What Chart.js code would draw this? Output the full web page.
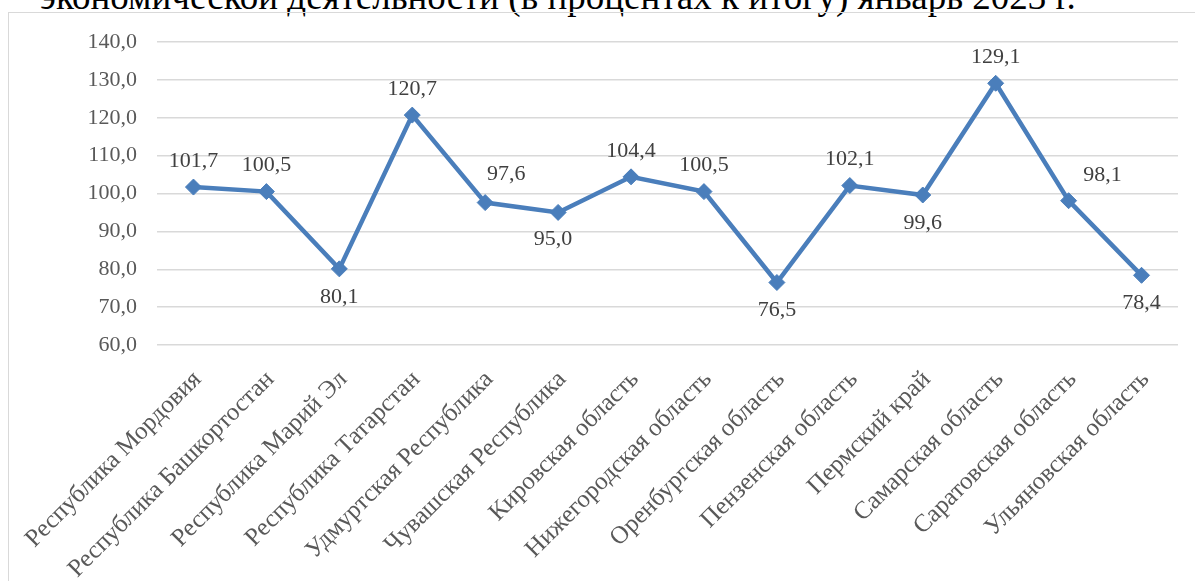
<!DOCTYPE html>
<html><head><meta charset="utf-8">
<script src="https://cdn.jsdelivr.net/npm/chart.js@4"></script>
<style>
html,body{margin:0;padding:0;background:#fff;overflow:hidden;width:1195px;height:581px}
#title{position:absolute;left:40px;top:-22px;line-height:37px;font-family:"Liberation Serif","Times New Roman",serif;font-size:37px;font-weight:normal;color:#000;white-space:nowrap}
#frame{position:absolute;left:8px;top:12px;width:1200px;height:600px;border:1.5px solid #d9d9d9;box-sizing:border-box}
#wrap{position:absolute;left:0;top:0;width:1195px;height:581px}
</style></head>
<body>
<div id="title">экономической деятельности (в процентах к итогу) январь 2023 г.</div>
<div id="frame"></div>
<div id="wrap"><canvas id="c"></canvas></div>
<script>
const categories = ["Республика Мордовия","Республика Башкортостан","Республика Марий Эл","Республика Татарстан","Удмуртская Республика","Чувашская Республика","Кировская область","Нижегородская область","Оренбургская область","Пензенская область","Пермский край","Самарская область","Саратовская область","Ульяновская область"];
const values = [101.7,100.5,80.1,120.7,97.6,95.0,104.4,100.5,76.5,102.1,99.6,129.1,98.1,78.4];
const yTicks = [60,70,80,90,100,110,120,130,140];

const labelPlacement = ["up","up","down","up","upright","down2","up","up","down","up","down","up","upright2","down"];
const fmt = v => v.toFixed(1).replace('.', ',');

const labelPlugin = {
  id:'lbls',
  afterDatasetsDraw(chart){
    const ctx = chart.ctx;
    const meta = chart.getDatasetMeta(0);
    ctx.save();
    ctx.font = '22px "Liberation Serif", "Times New Roman", serif';
    ctx.fillStyle = '#404040';
    ctx.textAlign = 'center';
    ctx.textBaseline = 'middle';
    meta.data.forEach((pt,i)=>{
      let dx=0, dy=-26;
      const p = labelPlacement[i];
      if(p==='down'){dy=28;}
      else if(p==='upright'){dx=21;dy=-28;}
      else if(p==='upright2'){dx=34;dy=-25;}
      else if(p==='down2'){dx=-5;dy=27;}
      ctx.fillText(fmt(values[i]), pt.x+dx, pt.y+dy);
    });
    ctx.restore();
  }
};

new Chart(document.getElementById('c'), {
  type:'line',
  data:{labels:categories, datasets:[{
    data:values,
    borderColor:'#4a7ebb',
    backgroundColor:'#4a7ebb',
    borderWidth:4.5,
    pointStyle:'rectRot',
    pointRadius:8,
    pointBorderWidth:1,
    tension:0,
    fill:false
  }]},
  options:{
    responsive:true, maintainAspectRatio:false, animation:false,
    devicePixelRatio:1,
    layout:{padding:{left:0,right:17,top:42,bottom:0}},
    plugins:{legend:{display:false},tooltip:{enabled:false}},
    scales:{
      x:{
        offset:true,
        grid:{display:false, drawTicks:false},
        border:{display:false},
        ticks:{
          autoSkip:false, maxRotation:45, minRotation:45, padding:20, labelOffset:4,
          color:'#595959',
          font:{family:'"Liberation Serif", "Times New Roman", serif', size:25}
        },
        afterFit(s){ s.height = 236; }
      },
      y:{
        min:60, max:140,
        afterBuildTicks(s){ s.ticks = yTicks.map(v=>({value:v})); },
        grid:{color:'#d9d9d9', lineWidth:1.5, drawTicks:false},
        border:{display:false},
        ticks:{
          padding:20, color:'#595959',
          font:{family:'"Liberation Serif", "Times New Roman", serif', size:22},
          callback:v=>fmt(v)
        },
        afterFit(s){ s.width = 157; }
      }
    }
  },
  plugins:[labelPlugin]
});
</script>
</body></html>
